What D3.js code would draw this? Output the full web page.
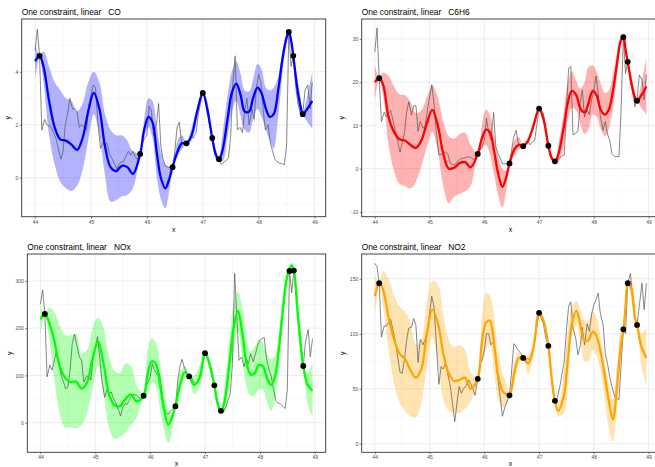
<!DOCTYPE html>
<html>
<head>
<meta charset="utf-8">
<script src="https://cdn.jsdelivr.net/npm/d3@7"></script>
<style>
  body { margin: 0; background: #fff; }
  text { font-family: "Liberation Sans", Arial, sans-serif; }
</style>
</head>
<body>
<svg id="chart" width="655" height="467"></svg>
<script>
// raw hourly series (grey line), shared time axis
var rawX = [
  44.00, 44.04, 44.08, 44.12, 44.17, 44.21, 44.29, 44.37,
  44.46, 44.50, 44.54, 44.58, 44.62, 44.67, 44.71, 44.75,
  44.79, 44.83, 44.88, 44.92, 44.96, 45.04, 45.08, 45.12,
  45.17, 45.21, 45.25, 45.29, 45.33, 45.38, 45.46, 45.50,
  45.54, 45.58, 45.62, 45.67, 45.71, 45.75, 45.79, 45.83,
  45.88, 45.92, 45.96, 46.00, 46.04, 46.08, 46.12, 46.17,
  46.21, 46.25, 46.29, 46.33, 46.38, 46.46, 46.50, 46.54,
  46.58, 46.62, 46.67, 46.71, 46.75, 46.79, 46.83, 46.88,
  46.92, 47.00, 47.04, 47.08, 47.12, 47.17, 47.21, 47.25,
  47.29, 47.33, 47.38, 47.42, 47.46, 47.50, 47.54, 47.58,
  47.62, 47.67, 47.71, 47.75, 47.79, 47.83, 47.88, 47.92,
  47.96, 48.00, 48.04, 48.08, 48.12, 48.17, 48.21, 48.25,
  48.29, 48.33, 48.38, 48.46, 48.50, 48.54, 48.58, 48.62,
  48.67, 48.71, 48.75, 48.79, 48.83, 48.88, 48.92, 48.96
];
var rawCO = [
  4.8, 5.6, 4.6, 1.8, 2.2, 2.0, 1.9, 1.5,
  0.7, 1.0, 2.0, 2.4, 3.0, 2.6, 2.6, 2.5,
  1.9, 2.0, 1.9, 1.8, 2.7, 3.5, 3.4, 2.2,
  1.1, 1.3, 1.25, 1.3, 0.9, 0.7, 0.35, 0.5,
  0.6, 0.6, 0.8, 1.0, 0.85, 1.0, 0.8, 0.7,
  0.9, 1.3, 1.5, 1.6, 2.7, 2.55, 1.6, 2.0,
  2.8, 1.2, 0.7, 0.45, 0.4, 0.4, 1.0, 1.9,
  2.1, 1.3, 1.3, 1.3, 1.4, 1.55, 1.5, 1.7,
  2.4, 3.2, 3.0, 2.6, 2.0, 1.5, 1.1, 0.8,
  0.7, 0.5, 0.6, 0.65, 0.75, 1.6, 3.6, 4.6,
  1.8, 1.9, 1.7, 2.5, 3.0, 2.0, 2.6, 2.2,
  3.4, 3.9, 3.6, 2.6, 1.8, 2.0, 1.3, 1.0,
  0.7, 0.6, 0.55, 0.5, 1.2, 5.5, 4.2, 4.6,
  3.3, 2.7, 2.5, 2.4, 3.3, 3.5, 2.6, 3.6
];
var rawC6H6 = [
  27, 32.5, 20.9, 10.9, 13.0, 12.0, 13.5, 9,
  3.8, 6, 8.2, 13, 15.5, 12.4, 14.5, 14.6,
  8.6, 10.9, 9.3, 10, 13.6, 19.4, 15.1, 9,
  3.2, 3.3, 3.5, 3.9, 3.5, 1.2, 0.8, 1.5,
  2.0, 2.4, 2.4, 2.6, 2.8, 2.6, 2.2, 2.2,
  3.4, 4.3, 5.1, 6.6, 11.6, 8.2, 6.6, 13,
  5.1, 3.5, 2.4, 1.2, 1.1, 1.1, 4.5, 7.4,
  8.9, 5.9, 5.5, 5.1, 6.0, 6.6, 5.5, 6.2,
  6.5, 14.0, 13.5, 12.8, 9, 5.1, 2.8, 2.0,
  1.5, 2.0, 2.5, 3.0, 3.2, 13.6, 23.2, 23.6,
  7.8, 8.2, 8.6, 15, 18.2, 12, 13.6, 12.5,
  15.9, 18, 21.4, 17.4, 12, 8.9, 10.9, 8,
  6.6, 3.5, 2.8, 2.8, 14.3, 30.5, 22, 24.7,
  20, 18.2, 14.3, 15.9, 21.7, 20.5, 15.9, 21.7
];
var rawNOx = [
  251, 281, 230, 97, 122, 111, 150, 104,
  72, 76, 111, 168, 187, 160, 139, 132,
  86, 97, 100, 90, 139, 182, 139, 90,
  54, 69, 62, 65, 51, 40, 14, 33,
  40, 39, 47, 60, 59, 58, 54, 51,
  57, 76, 86, 97, 125, 111, 103, 104,
  69, 33, 21, 18, 26, 33, 86, 118,
  134, 118, 104, 98, 97, 86, 83, 90,
  104, 146, 143, 125, 104, 79, 47, 30,
  24, 23, 33, 47, 62, 125, 316, 224,
  132, 139, 118, 136, 125, 146, 129, 146,
  164, 175, 178, 180, 136, 111, 97, 69,
  47, 42, 39, 30, 69, 321, 275, 323,
  260, 210, 165, 119, 170, 197, 140, 178
];
var rawNO2 = [
  164, 161, 146, 97, 107, 107, 113, 94,
  65, 64, 76, 94, 105, 106, 114, 108,
  74, 95, 90, 95, 103, 134, 125, 94,
  54, 70, 68, 73, 64, 52, 20, 37,
  52, 46, 50, 53, 58, 55, 50, 44,
  59, 73, 76, 85, 100, 100, 90, 93,
  76, 58, 43, 25, 34, 44, 67, 91,
  88, 85, 82, 78, 75, 78, 76, 82,
  94, 119, 114, 109, 97, 89, 67, 49,
  39, 41, 52, 64, 75, 103, 125, 129,
  105, 96, 81, 88, 106, 90, 109, 102,
  118, 126, 131, 137, 118, 108, 82, 73,
  61, 52, 43, 40, 73, 104, 100, 146,
  155, 131, 114, 108, 125, 146, 122, 146
];

// fitted curve and band, shared x grid
var fitX = [
  44.00, 44.08, 44.15, 44.25, 44.35, 44.45, 44.55, 44.65, 44.75, 44.85,
  44.95, 45.05, 45.15, 45.25, 45.35, 45.45, 45.55, 45.65, 45.75, 45.88,
  45.95, 46.03, 46.10, 46.18, 46.25, 46.33, 46.40, 46.46, 46.55, 46.63,
  46.71, 46.80, 46.90, 47.00, 47.08, 47.17, 47.23, 47.29, 47.35, 47.45,
  47.52, 47.60, 47.68, 47.75, 47.83, 47.90, 47.98, 48.05, 48.13, 48.20,
  48.27, 48.35, 48.42, 48.49, 48.54, 48.58, 48.62, 48.69, 48.75, 48.79,
  48.87, 48.96
];
var coMean = [
  4.4, 4.6, 4.2, 2.9, 1.9, 1.45, 1.4, 1.25, 1.05, 1.5,
  2.5, 3.2, 2.6, 1.2, 0.4, 0.25, 0.45, 0.4, 0.15, 0.9,
  1.8, 2.3, 2.1, 0.9, 0.0, -0.4, -0.05, 0.4, 1.0, 1.3,
  1.3, 1.6, 2.5, 3.2, 2.6, 1.5, 0.9, 0.7, 1.0, 2.3,
  3.2, 3.55, 3.1, 2.5, 2.5, 3.0, 3.4, 3.2, 2.6, 2.3,
  2.4, 3.3, 4.4, 5.2, 5.5, 5.2, 4.6, 3.4, 2.7, 2.4,
  2.6, 2.9
];
var coHi = [
  5.0, 4.65, 4.75, 4.2, 3.6, 3.3, 3.0, 2.9, 2.5, 2.8,
  3.6, 4.0, 3.6, 2.4, 1.8, 1.6, 1.6, 1.4, 1.0, 0.95,
  2.2, 3.0, 2.9, 1.9, 1.0, 0.5, 0.4, 0.45, 1.4, 1.6,
  1.35, 1.9, 2.7, 3.25, 2.9, 1.55, 1.1, 0.75, 1.6, 3.2,
  4.0, 4.4, 3.9, 3.3, 3.25, 3.7, 4.3, 4.1, 3.4, 3.3,
  3.4, 3.8, 4.7, 5.4, 5.55, 5.3, 4.65, 3.8, 3.0, 2.45,
  3.1, 4.0
];
var coLo = [
  3.7, 4.55, 3.6, 1.6, 0.5, -0.15, -0.4, -0.5, -0.3, 0.3,
  1.4, 2.4, 1.6, 0.1, -0.9, -0.85, -0.7, -0.65, -0.4, 0.85,
  1.5, 1.9, 1.5, 0.0, -0.8, -1.15, -0.5, 0.35, 0.8, 1.1,
  1.25, 1.4, 2.3, 3.15, 2.3, 1.45, 0.7, 0.65, 0.6, 1.6,
  2.5, 2.9, 2.3, 1.8, 1.7, 2.2, 2.6, 2.3, 1.8, 1.4,
  1.1, 2.3, 3.8, 5.0, 5.45, 5.0, 4.55, 3.0, 2.35, 2.35,
  2.1, 1.85
];
var c6h6Mean = [
  20, 20.9, 19.5, 12, 8.5, 6.8, 6.5, 5.5, 4.8, 6.5,
  10.5, 13.6, 10, 3.5, 0.0, 0.2, 1.3, 1.5, 0.3, 3.4,
  6.8, 9.0, 8.5, 4.0, -1.0, -4.2, -2.0, 1.2, 4.5, 5.5,
  5.2, 6.5, 10, 13.9, 11.5, 5.3, 2.5, 1.7, 3.2, 9.5,
  15, 18, 17, 14, 13, 15, 18, 17, 13.5, 12.5,
  13.5, 18, 24, 29.5, 30.4, 27.5, 24.7, 19.5, 16.5, 15.7,
  17, 19
];
var c6h6Hi = [
  24, 21.2, 22.2, 21.5, 19, 17.2, 17.0, 15.5, 12.8, 13.5,
  16.5, 19.3, 16.5, 11, 7.5, 7.0, 8.0, 8.3, 5.5, 3.6,
  9.5, 13.7, 12.5, 7.5, 3, 0.0, -0.5, 1.4, 6.5, 7.3,
  5.5, 7.0, 11.0, 14.3, 12.5, 5.6, 3.3, 1.9, 5.5, 13,
  19.5, 22.5, 20.2, 18.5, 20, 23.5, 23.9, 22.5, 19.5, 17.5,
  18, 22, 26.5, 30.5, 31.2, 29, 25.2, 21.5, 18, 16.0,
  20, 25.5
];
var c6h6Lo = [
  15.5, 20.6, 17, 5.5, -0.5, -3.5, -4.0, -4.6, -3.0, 0.5,
  5.0, 8.5, 4, -4, -8.0, -6.5, -5.8, -5.2, -4.0, 3.2,
  4.5, 5.5, 3.5, -1.5, -6, -9.0, -5, 1.0, 3.0, 4.5,
  5.0, 6.0, 9.5, 13.5, 10.5, 5.0, 1.8, 1.5, 1.5, 5.5,
  11, 14, 13.5, 10.5, 8, 9, 12.5, 12, 9, 7.5,
  9, 14, 21, 28, 29.8, 26, 24.2, 18.5, 15, 15.4,
  14, 12.5
];
var noxMean = [
  219, 230, 215, 175, 120, 95, 86, 87, 72, 85,
  135, 172, 125, 60, 37, 35, 50, 60, 45, 57,
  100, 130, 125, 80, 30, -4, 12, 35, 83, 107,
  98, 80, 95, 147, 125, 79, 40, 25, 42, 130,
  200, 236, 190, 130, 102, 104, 122, 120, 95, 80,
  95, 160, 240, 305, 325, 333, 322, 230, 160, 120,
  80, 68
];
var noxHi = [
  245, 233, 243, 235, 205, 185, 185, 188, 145, 155,
  200, 222, 200, 140, 110, 105, 125, 120, 80, 60,
  150, 178, 170, 130, 70, 30, 20, 38, 110, 120,
  102, 100, 120, 152, 135, 82, 55, 28, 70, 180,
  250, 278, 245, 180, 150, 160, 175, 170, 145, 135,
  140, 195, 270, 320, 330, 340, 326, 260, 190, 122,
  105, 130
];
var noxLo = [
  185, 227, 185, 95, 20, -10, -10, -12, -5, 20,
  70, 120, 60, -10, -35, -30, -20, -5, 10, 54,
  60, 85, 80, 30, -15, -43, -20, 32, 55, 95,
  95, 60, 75, 142, 112, 76, 30, 22, 20, 85,
  150, 195, 140, 80, 57, 57, 70, 70, 45, 25,
  45, 125, 210, 290, 318, 322, 318, 200, 130, 117,
  40, 12
];
var no2Mean = [
  134, 146, 140, 115, 95, 82, 77, 67, 60, 68,
  100, 122, 110, 82, 64, 57, 58, 60, 50, 59,
  90, 110, 112, 90, 63, 48, 45, 44, 65, 78,
  78, 73, 88, 119, 112, 89, 60, 39, 30, 43,
  73, 109, 121, 109, 94, 94, 102, 98, 82, 62,
  40, 22, 50, 88, 104, 125, 146, 140, 115, 108,
  88, 78
];
var no2Hi = [
  152, 147, 157, 150, 135, 125, 120, 110, 90, 95,
  130, 148, 145, 118, 95, 88, 90, 85, 65, 60,
  110, 137, 135, 115, 85, 65, 55, 45, 75, 83,
  79, 80, 95, 121, 116, 90, 65, 40, 38, 65,
  100, 125, 130, 122, 112, 112, 120, 115, 95, 75,
  55, 40, 70, 100, 105, 130, 147, 148, 125, 109,
  100, 106
];
var no2Lo = [
  115, 145, 125, 85, 55, 37, 30, 25, 24, 38,
  70, 97, 75, 40, 30, 28, 28, 32, 38, 58,
  70, 85, 90, 65, 40, 33, 35, 43, 55, 72,
  77, 63, 80, 117, 108, 88, 55, 38, 25, 28,
  48, 98, 108, 95, 75, 75, 85, 80, 65, 40,
  15, 2, 30, 75, 103, 118, 145, 130, 110, 107,
  70, 52
];

// constraint points
var ptX = [44.08, 45.88, 46.46, 46.71, 47.00, 47.17, 47.29, 48.54, 48.62, 48.79];
var ptCO = [4.6, 0.9, 0.4, 1.3, 3.2, 1.5, 0.7, 5.5, 4.6, 2.4];
var ptC6H6 = [20.9, 3.4, 1.2, 5.2, 13.9, 5.3, 1.7, 30.4, 24.7, 15.7];
var ptNOx = [230, 57, 35, 98, 147, 79, 25, 321, 322, 120];
var ptNO2 = [146, 59, 44, 78, 119, 89, 39, 104, 146, 108];

var xTicks = [44, 45, 46, 47, 48, 49];
var xMinor = [44.5, 45.5, 46.5, 47.5, 48.5];

var panels = [
  {name: "CO", raw: rawCO, mean: coMean, lo: coLo, hi: coHi, pts: ptCO, col: "#0000FF",
   box: [21.7, 19, 325.7, 216.7], yDom: [-1.47, 5.99], yTicks: [0, 2, 4], yMinor: [-1, 1, 3, 5], yLab: 8.3},
  {name: "C6H6", raw: rawC6H6, mean: c6h6Mean, lo: c6h6Lo, hi: c6h6Hi, pts: ptC6H6, col: "#FF0000",
   box: [361.7, 19, 659.5, 216.7], yDom: [-11.1, 34.6], yTicks: [-10, 0, 10, 20, 30], yMinor: [-5, 5, 15, 25], yLab: 342.3},
  {name: "NOx", raw: rawNOx, mean: noxMean, lo: noxLo, hi: noxHi, pts: ptNOx, col: "#00FF00",
   box: [27.3, 254, 325.7, 452.3], yDom: [-62.7, 357], yTicks: [0, 100, 200, 300], yMinor: [-50, 50, 150, 250], yLab: 10},
  {name: "NO2", raw: rawNO2, mean: no2Mean, lo: no2Lo, hi: no2Hi, pts: ptNO2, col: "#FFA500",
   box: [361.7, 254, 659.5, 452.3], yDom: [-7.8, 172.5], yTicks: [0, 50, 100, 150], yMinor: [25, 75, 125], yLab: 343.3}
];

var svg = d3.select("#chart");
var xDomain = [43.76, 49.2];

panels.forEach(function (p, k) {
    var b = p.box;
    var x = d3.scaleLinear().domain(xDomain).range([b[0], b[2]]);
    var y = d3.scaleLinear().domain(p.yDom).range([b[3], b[1]]);
    var g = svg.append("g");

    g.append("clipPath").attr("id", "clip" + k).append("rect")
        .attr("x", b[0]).attr("y", b[1]).attr("width", b[2] - b[0]).attr("height", b[3] - b[1]);

    // grid
    var grid = g.append("g");
    grid.selectAll(".mx").data(xMinor).enter().append("line")
        .attr("x1", d => x(d)).attr("x2", d => x(d)).attr("y1", b[1]).attr("y2", b[3])
        .attr("stroke", "#F0F0F0").attr("stroke-width", 0.5);
    grid.selectAll(".my").data(p.yMinor).enter().append("line")
        .attr("x1", b[0]).attr("x2", b[2]).attr("y1", d => y(d)).attr("y2", d => y(d))
        .attr("stroke", "#F0F0F0").attr("stroke-width", 0.5);
    grid.selectAll(".gx").data(xTicks).enter().append("line")
        .attr("x1", d => x(d)).attr("x2", d => x(d)).attr("y1", b[1]).attr("y2", b[3])
        .attr("stroke", "#EBEBEB").attr("stroke-width", 0.9);
    grid.selectAll(".gy").data(p.yTicks).enter().append("line")
        .attr("x1", b[0]).attr("x2", b[2]).attr("y1", d => y(d)).attr("y2", d => y(d))
        .attr("stroke", "#EBEBEB").attr("stroke-width", 0.9);

    var plot = g.append("g").attr("clip-path", "url(#clip" + k + ")");

    var fit = d3.zip(fitX, p.mean, p.lo, p.hi);
    var band = d3.area().curve(d3.curveCatmullRom.alpha(0.5))
        .x(d => x(d[0])).y0(d => y(d[2])).y1(d => y(d[3]));
    plot.append("path").datum(fit).attr("d", band)
        .attr("fill", p.col).attr("fill-opacity", 0.3);

    var raw = d3.zip(rawX, p.raw);
    plot.append("path").datum(raw)
        .attr("d", d3.line().x(d => x(d[0])).y(d => y(d[1])))
        .attr("fill", "none").attr("stroke", "#555").attr("stroke-width", 0.7);

    plot.append("path").datum(fit)
        .attr("d", d3.line().curve(d3.curveCatmullRom.alpha(0.5)).x(d => x(d[0])).y(d => y(d[1])))
        .attr("fill", "none").attr("stroke", p.col).attr("stroke-width", 2.3);

    plot.selectAll("circle").data(d3.zip(ptX, p.pts)).enter().append("circle")
        .attr("cx", d => x(d[0])).attr("cy", d => y(d[1])).attr("r", 2.9).attr("fill", "#000");

    g.append("rect").attr("x", b[0]).attr("y", b[1])
        .attr("width", b[2] - b[0]).attr("height", b[3] - b[1])
        .attr("fill", "none").attr("stroke", "#333").attr("stroke-width", 0.9);

    // axes
    var ax = g.append("g").attr("transform", "translate(0," + b[3] + ")")
        .call(d3.axisBottom(x).tickValues(xTicks).tickSize(2).tickPadding(1.5).tickFormat(d => String(d)));
    var ay = g.append("g").attr("transform", "translate(" + b[0] + ",0)")
        .call(d3.axisLeft(y).tickValues(p.yTicks).tickSize(2).tickPadding(1.5).tickFormat(d => String(d)));
    [ax, ay].forEach(function (a) {
        a.select(".domain").remove();
        a.selectAll(".tick line").attr("stroke", "#333").attr("stroke-width", 0.6);
        a.selectAll(".tick text").attr("fill", "#4D4D4D").style("font-size", "5px")
            .style("font-family", "'Liberation Sans', Arial, sans-serif");
    });

    g.append("text").attr("x", b[0]).attr("y", b[1] - 4.5)
        .style("font-size", "8.4px").style("white-space", "pre").attr("fill", "#000")
        .text("One constraint, linear   " + p.name);

    // x title: keep it inside the 467 px frame for the lower row
    g.append("text").attr("x", (b[0] + b[2]) / 2).attr("y", Math.min(b[3] + 15.5, 465.5))
        .attr("text-anchor", "middle").style("font-size", "7px").text("x");
    var cy = (b[1] + b[3]) / 2;
    g.append("text").attr("transform", "translate(" + (p.yLab + 2) + "," + cy + ") rotate(-90)")
        .attr("text-anchor", "middle").style("font-size", "7px").text("y");
});
</script>
</body>
</html>
